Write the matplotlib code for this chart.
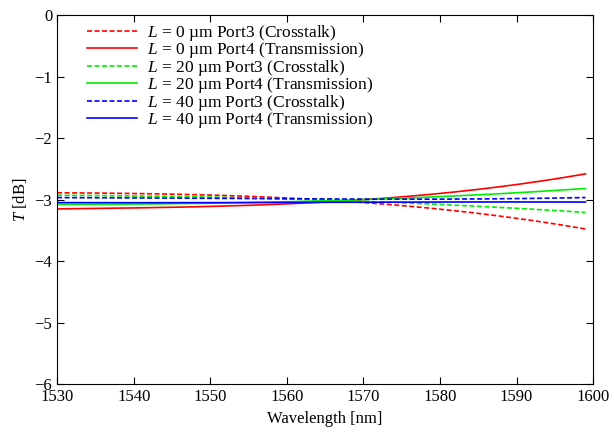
import matplotlib
matplotlib.use("Agg")
import matplotlib.pyplot as plt
import numpy as np

plt.rcParams['font.family'] = ['Liberation Serif', 'DejaVu Serif']
plt.rcParams['mathtext.fontset'] = 'custom'
plt.rcParams['mathtext.rm'] = 'Liberation Serif'
plt.rcParams['mathtext.it'] = 'Liberation Serif:italic'

wavelength = [1530, 1540, 1550, 1560, 1570, 1580, 1590, 1599]
l0_port3 = [-2.89, -2.90, -2.93, -2.97, -3.05, -3.16, -3.30, -3.48]
l0_port4 = [-3.15, -3.14, -3.11, -3.07, -3.00, -2.90, -2.76, -2.58]
l20_port3 = [-2.93, -2.94, -2.96, -2.99, -3.03, -3.08, -3.14, -3.21]
l20_port4 = [-3.08, -3.07, -3.06, -3.04, -3.00, -2.95, -2.89, -2.82]
l40_port3 = [-2.97, -2.97, -2.98, -2.99, -3.00, -2.99, -2.98, -2.97]
l40_port4 = [-3.05, -3.05, -3.05, -3.05, -3.04, -3.04, -3.04, -3.04]

labels = [r"$L$ = 0 µm Port3 (Crosstalk)", r"$L$ = 0 µm Port4 (Transmission)",
          r"$L$ = 20 µm Port3 (Crosstalk)", r"$L$ = 20 µm Port4 (Transmission)",
          r"$L$ = 40 µm Port3 (Crosstalk)", r"$L$ = 40 µm Port4 (Transmission)"]
series = [l0_port3, l0_port4, l20_port3, l20_port4, l40_port3, l40_port4]
colors = ['#ff0000', '#ff0000', '#00ee00', '#00ee00', '#0000ff', '#0000ff']
styles = [(0, (3, 1.5)), '-', (0, (3, 1.5)), '-', (0, (3, 1.5)), '-']

fig = plt.figure(figsize=(6.14, 4.42), dpi=100)
ax = fig.add_axes([0.093, 0.131, 0.873, 0.835])

xs = np.linspace(1530, 1599, 200)
for ys, lab, c, ls in zip(series, labels, colors, styles):
    coef = np.polyfit(wavelength, ys, 3)
    ax.plot(xs, np.polyval(coef, xs), color=c, linestyle=ls, lw=1.2, label=lab)

ax.set_xlim(1530, 1600)
ax.set_ylim(-6, 0)
ax.set_xticks(range(1530, 1601, 10))
ax.set_yticks(range(-6, 1))
ax.tick_params(direction='in', top=True, right=True, labelsize=12, length=5)
ax.set_xlabel("Wavelength [nm]", fontsize=12)
ax.set_ylabel(r"$T$ [dB]", fontsize=12)
ax.legend(loc='upper left', bbox_to_anchor=(0.043, 0.997), frameon=False,
          fontsize=12.5, handlelength=2.9, labelspacing=-0.15,
          borderaxespad=0.0, handletextpad=0.55)

fig.savefig("out.png", dpi=100)
